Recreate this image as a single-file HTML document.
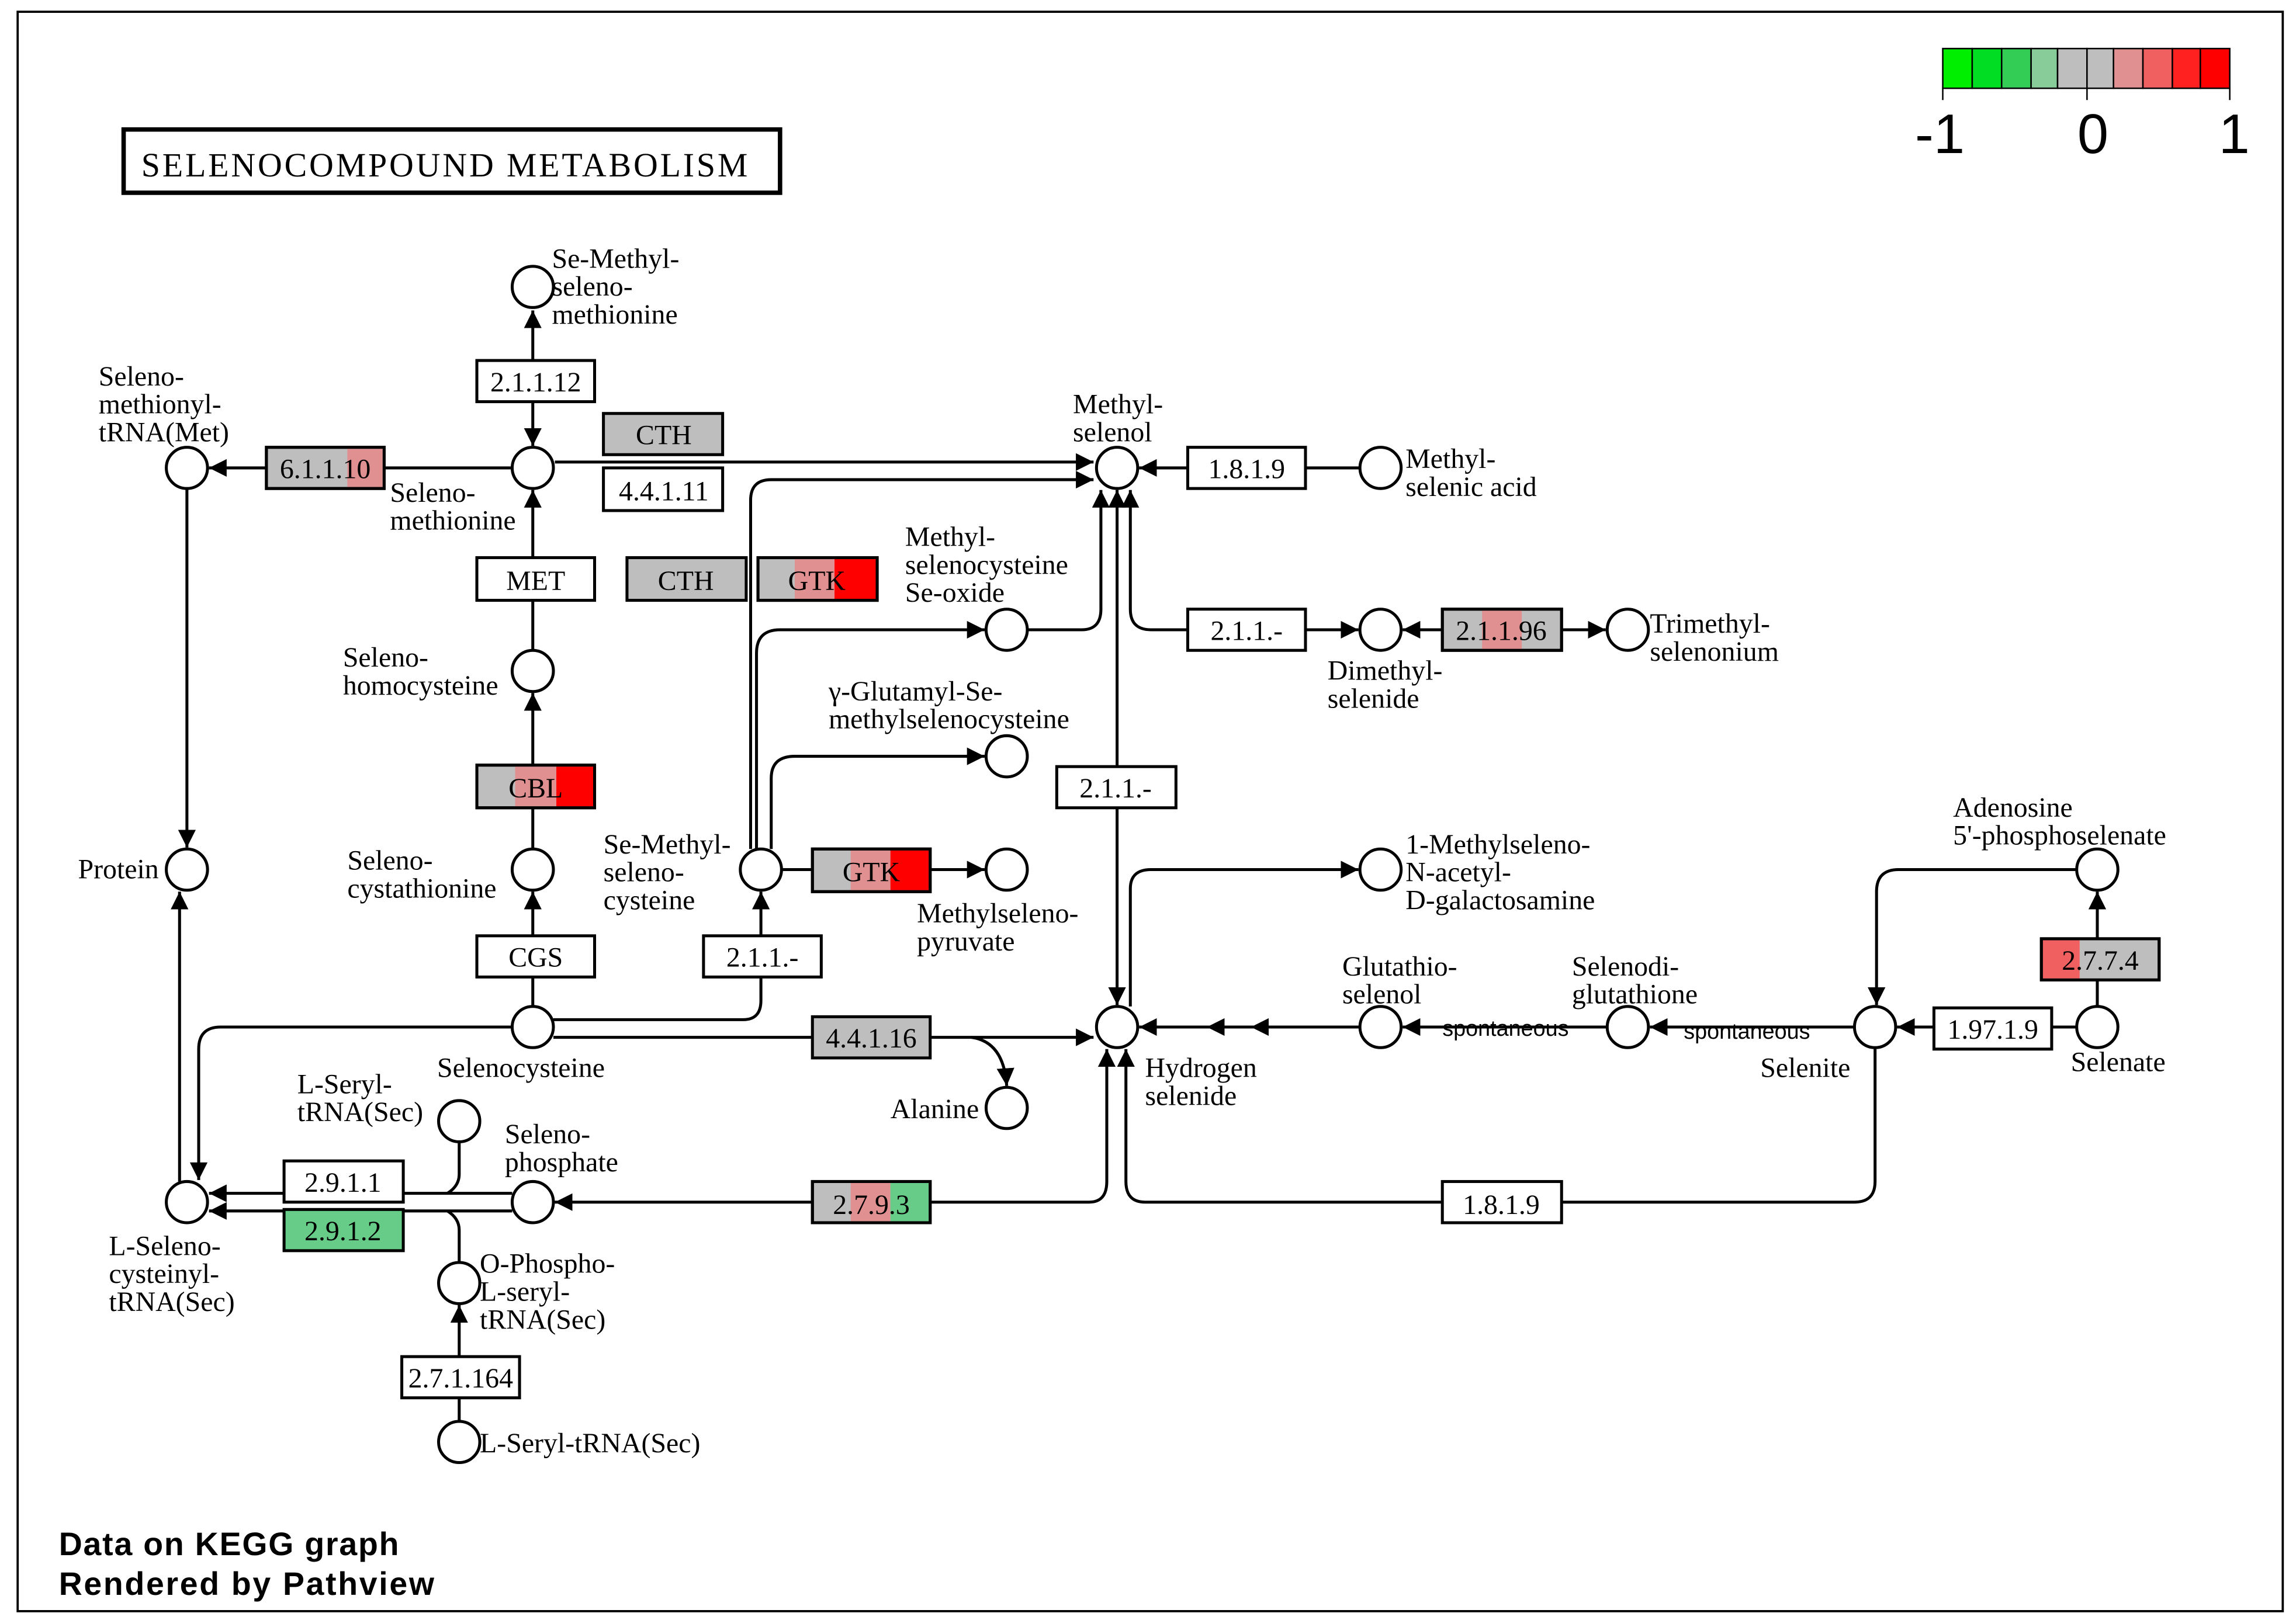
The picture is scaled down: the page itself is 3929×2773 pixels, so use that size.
<!DOCTYPE html>
<html><head><meta charset="utf-8"><style>
html,body{margin:0;padding:0;background:#fff}
svg{display:block}
text{font-family:"Liberation Serif",serif;font-size:19px;fill:#000}
.e{font-size:19px;text-anchor:middle}
.s{font-family:"Liberation Sans",sans-serif;font-size:15px}
</style></head><body>
<svg width="3929" height="2773" viewBox="0 0 1560 1101" preserveAspectRatio="none" xmlns="http://www.w3.org/2000/svg">
<defs><marker id="a" viewBox="0 0 10 10" refX="10" refY="5" markerWidth="12" markerHeight="12" markerUnits="userSpaceOnUse" orient="auto"><path d="M0,0L10,5L0,10z" fill="#000"/></marker></defs>
<rect x="0" y="0" width="1560" height="1101" fill="#fff"/>
<rect x="12" y="8" width="1539" height="1087" fill="none" stroke="#000" stroke-width="1.5"/>
<g stroke="#000" stroke-width="1">
<rect x="1320" y="33" width="20" height="27" fill="#00ee00"/><rect x="1340" y="33" width="20" height="27" fill="#00dd22"/><rect x="1360" y="33" width="20" height="27" fill="#33cc55"/><rect x="1380" y="33" width="18" height="27" fill="#88cc99"/><rect x="1398" y="33" width="20" height="27" fill="#bebebe"/><rect x="1418" y="33" width="18" height="27" fill="#bebebe"/><rect x="1436" y="33" width="20" height="27" fill="#e09090"/><rect x="1456" y="33" width="20" height="27" fill="#f06060"/><rect x="1476" y="33" width="19" height="27" fill="#ff2020"/><rect x="1495" y="33" width="20" height="27" fill="#ff0000"/>
<line x1="1320" y1="60" x2="1320" y2="68"/><line x1="1418" y1="60" x2="1418" y2="68"/><line x1="1515" y1="60" x2="1515" y2="68"/></g>
<text x="1318" y="104" style="font-family:'Liberation Sans',sans-serif;font-size:38px" text-anchor="middle">-1</text>
<text x="1422" y="104" style="font-family:'Liberation Sans',sans-serif;font-size:38px" text-anchor="middle">0</text>
<text x="1518" y="104" style="font-family:'Liberation Sans',sans-serif;font-size:38px" text-anchor="middle">1</text>
<rect x="84" y="88" width="446" height="43" fill="#fff" stroke="#000" stroke-width="3"/>
<text x="96" y="120" style="font-size:23px" textLength="412">SELENOCOMPOUND  METABOLISM</text>
<text x="40" y="1057" style="font-family:'Liberation Sans',sans-serif;font-size:22px;font-weight:bold" textLength="231">Data on KEGG graph</text>
<text x="40" y="1084" style="font-family:'Liberation Sans',sans-serif;font-size:22px;font-weight:bold" textLength="255">Rendered by Pathview</text>

<g fill="none" stroke="#000" stroke-width="2">
<path d="M362,245V211" marker-end="url(#a)"/>
<path d="M362,273V303" marker-end="url(#a)"/>
<path d="M347,318H261"/><path d="M181,318H142" marker-end="url(#a)"/>
<path d="M377,314H743" marker-end="url(#a)"/>
<path d="M362,379V333" marker-end="url(#a)"/><path d="M362,408V442"/>
<path d="M362,520V471" marker-end="url(#a)"/><path d="M362,549V577"/>
<path d="M362,636V606" marker-end="url(#a)"/><path d="M362,664V684"/>
<path d="M127,332V576" marker-end="url(#a)"/>
<path d="M122,803V606" marker-end="url(#a)"/>
<path d="M348,698H150Q135,698 135,713V802" marker-end="url(#a)"/>
<path d="M376,693H505Q517,693 517,680V664"/><path d="M517,636V606" marker-end="url(#a)"/>
<path d="M376,705H552"/><path d="M632,705H743" marker-end="url(#a)"/>
<path d="M660,705Q682,708 684,738" marker-end="url(#a)"/>
<path d="M510,577V340Q510,326 524,326H743" marker-end="url(#a)"/>
<path d="M514,577V444Q514,428 530,428H669" marker-end="url(#a)"/>
<path d="M524,577V529Q524,514 540,514H669" marker-end="url(#a)"/>
<path d="M531,591H552"/><path d="M632,591H669" marker-end="url(#a)"/>
<path d="M698,428H735Q748,428 748,414V333" marker-end="url(#a)"/>
<path d="M759,521V333" marker-end="url(#a)"/><path d="M759,549V683" marker-end="url(#a)"/>
<path d="M807,428H782Q768,428 768,414V333" marker-end="url(#a)"/>
<path d="M887,428H923" marker-end="url(#a)"/>
<path d="M980,428H953" marker-end="url(#a)"/><path d="M1061,428H1091" marker-end="url(#a)"/>
<path d="M924,318H887"/><path d="M807,318H774" marker-end="url(#a)"/>
<path d="M768,684V604Q768,591 782,591H923" marker-end="url(#a)"/>
<path d="M924,698H774" marker-end="url(#a)"/>
<path d="M900,698H820" marker-end="url(#a)"/><path d="M870,698H850" marker-end="url(#a)"/>
<path d="M1092,698H953" marker-end="url(#a)"/>
<path d="M1260,698H1121" marker-end="url(#a)"/>
<path d="M1314,698H1289" marker-end="url(#a)"/><path d="M1394,698H1411"/>
<path d="M1425,684V666"/><path d="M1425,638V606" marker-end="url(#a)"/>
<path d="M1411,591H1290Q1275,591 1275,606V683" marker-end="url(#a)"/>
<path d="M1274,712V803Q1274,817 1260,817H1061"/>
<path d="M980,817H778Q765,817 765,803V713" marker-end="url(#a)"/>
<path d="M552,817H377" marker-end="url(#a)"/>
<path d="M632,817H740Q752,817 752,803V713" marker-end="url(#a)"/>
<path d="M348,811H274"/><path d="M193,811H142" marker-end="url(#a)"/>
<path d="M348,823H274"/><path d="M193,823H142" marker-end="url(#a)"/>
<path d="M312,776V798Q312,806 304,811"/>
<path d="M312,858V836Q312,828 304,823"/>
<path d="M312,922V887" marker-end="url(#a)"/><path d="M312,950V966"/>
</g>
<g stroke="#000" stroke-width="2">
<rect x="324" y="245" width="80" height="28" fill="#fff"/>
<rect x="181" y="304" width="80" height="28" fill="#bebebe"/><rect x="236" y="305" width="24" height="26" fill="#e09090" stroke="none"/><rect x="181" y="304" width="80" height="28" fill="none"/>
<rect x="410" y="281" width="81" height="28" fill="#bebebe"/>
<rect x="410" y="318" width="81" height="29" fill="#fff"/>
<rect x="324" y="379" width="80" height="29" fill="#fff"/>
<rect x="426" y="379" width="81" height="29" fill="#bebebe"/>
<rect x="515" y="379" width="81" height="29" fill="#bebebe"/><rect x="540" y="380" width="27" height="27" fill="#e09090" stroke="none"/><rect x="567" y="380" width="28" height="27" fill="#ff0000" stroke="none"/><rect x="515" y="379" width="81" height="29" fill="none"/>
<rect x="324" y="520" width="80" height="29" fill="#bebebe"/><rect x="350" y="521" width="28" height="27" fill="#e09090" stroke="none"/><rect x="378" y="521" width="25" height="27" fill="#ff0000" stroke="none"/><rect x="324" y="520" width="80" height="29" fill="none"/>
<rect x="324" y="636" width="80" height="28" fill="#fff"/>
<rect x="478" y="636" width="80" height="28" fill="#fff"/>
<rect x="552" y="577" width="80" height="29" fill="#bebebe"/><rect x="578" y="578" width="27" height="27" fill="#e09090" stroke="none"/><rect x="605" y="578" width="26" height="27" fill="#ff0000" stroke="none"/><rect x="552" y="577" width="80" height="29" fill="none"/>
<rect x="552" y="691" width="80" height="28" fill="#bebebe"/>
<rect x="552" y="803" width="80" height="28" fill="#bebebe"/><rect x="578" y="804" width="27" height="26" fill="#e09090" stroke="none"/><rect x="605" y="804" width="26" height="26" fill="#66cc88" stroke="none"/><rect x="552" y="803" width="80" height="28" fill="none"/>
<rect x="193" y="789" width="81" height="28" fill="#fff"/>
<rect x="193" y="822" width="81" height="28" fill="#66cc88"/>
<rect x="273" y="922" width="80" height="28" fill="#fff"/>
<rect x="807" y="304" width="80" height="28" fill="#fff"/>
<rect x="807" y="414" width="80" height="28" fill="#fff"/>
<rect x="980" y="414" width="81" height="28" fill="#bebebe"/><rect x="1007" y="415" width="27" height="26" fill="#e09090" stroke="none"/><rect x="980" y="414" width="81" height="28" fill="none"/>
<rect x="718" y="521" width="81" height="28" fill="#fff"/>
<rect x="1387" y="638" width="80" height="28" fill="#bebebe"/><rect x="1388" y="639" width="25" height="26" fill="#f06060" stroke="none"/><rect x="1387" y="638" width="80" height="28" fill="none"/>
<rect x="1314" y="685" width="80" height="28" fill="#fff"/>
<rect x="980" y="803" width="81" height="28" fill="#fff"/>
</g>
<g class="e">
<text x="364" y="266">2.1.1.12</text><text x="221" y="325">6.1.1.10</text><text x="451" y="302">CTH</text><text x="451" y="340">4.4.1.11</text>
<text x="364" y="401">MET</text><text x="466" y="401">CTH</text><text x="555" y="401">GTK</text><text x="364" y="542">CBL</text>
<text x="364" y="657">CGS</text><text x="518" y="657">2.1.1.-</text><text x="592" y="599">GTK</text><text x="592" y="712">4.4.1.16</text>
<text x="592" y="825">2.7.9.3</text><text x="233" y="810">2.9.1.1</text><text x="233" y="843">2.9.1.2</text><text x="313" y="943">2.7.1.164</text>
<text x="847" y="325">1.8.1.9</text><text x="847" y="435">2.1.1.-</text><text x="1020" y="435">2.1.1.96</text><text x="758" y="542">2.1.1.-</text>
<text x="1427" y="659">2.7.7.4</text><text x="1354" y="706">1.97.1.9</text><text x="1020" y="825">1.8.1.9</text>
</g>
<g fill="#fff" stroke="#000" stroke-width="2">
<ellipse cx="362" cy="195" rx="14" ry="14"/><ellipse cx="127" cy="318" rx="14" ry="14"/><ellipse cx="362" cy="318" rx="14" ry="14"/>
<ellipse cx="362" cy="456" rx="14" ry="14"/><ellipse cx="362" cy="591" rx="14" ry="14"/><ellipse cx="362" cy="698" rx="14" ry="14"/>
<ellipse cx="127" cy="591" rx="14" ry="14"/><ellipse cx="127" cy="817" rx="14" ry="14"/><ellipse cx="312" cy="762" rx="14" ry="14"/>
<ellipse cx="362" cy="817" rx="14" ry="14"/><ellipse cx="312" cy="872" rx="14" ry="14"/><ellipse cx="312" cy="980" rx="14" ry="14"/>
<ellipse cx="517" cy="591" rx="14" ry="14"/><ellipse cx="684" cy="428" rx="14" ry="14"/><ellipse cx="684" cy="514" rx="14" ry="14"/>
<ellipse cx="684" cy="591" rx="14" ry="14"/><ellipse cx="684" cy="753" rx="14" ry="14"/><ellipse cx="759" cy="318" rx="14" ry="14"/>
<ellipse cx="938" cy="318" rx="14" ry="14"/><ellipse cx="938" cy="428" rx="14" ry="14"/><ellipse cx="1106" cy="428" rx="14" ry="14"/>
<ellipse cx="759" cy="698" rx="14" ry="14"/><ellipse cx="938" cy="591" rx="14" ry="14"/><ellipse cx="938" cy="698" rx="14" ry="14"/>
<ellipse cx="1106" cy="698" rx="14" ry="14"/><ellipse cx="1274" cy="698" rx="14" ry="14"/><ellipse cx="1425" cy="698" rx="14" ry="14"/>
<ellipse cx="1425" cy="591" rx="14" ry="14"/>
</g>
<g>
<text x="375" y="182">Se-Methyl-</text><text x="375" y="201">seleno-</text><text x="375" y="220">methionine</text>
<text x="67" y="262">Seleno-</text><text x="67" y="281">methionyl-</text><text x="67" y="300">tRNA(Met)</text>
<text x="265" y="341">Seleno-</text><text x="265" y="360">methionine</text>
<text x="233" y="453">Seleno-</text><text x="233" y="472">homocysteine</text>
<text x="236" y="591">Seleno-</text><text x="236" y="610">cystathionine</text>
<text x="297" y="732">Selenocysteine</text>
<text x="53" y="597">Protein</text>
<text x="202" y="743">L-Seryl-</text><text x="202" y="762">tRNA(Sec)</text>
<text x="343" y="777">Seleno-</text><text x="343" y="796">phosphate</text>
<text x="74" y="853">L-Seleno-</text><text x="74" y="872">cysteinyl-</text><text x="74" y="891">tRNA(Sec)</text>
<text x="326" y="865">O-Phospho-</text><text x="326" y="884">L-seryl-</text><text x="326" y="903">tRNA(Sec)</text>
<text x="326" y="987">L-Seryl-tRNA(Sec)</text>
<text x="410" y="580">Se-Methyl-</text><text x="410" y="599">seleno-</text><text x="410" y="618">cysteine</text>
<text x="615" y="371">Methyl-</text><text x="615" y="390">selenocysteine</text><text x="615" y="409">Se-oxide</text>
<text x="563" y="476">γ-Glutamyl-Se-</text><text x="563" y="495">methylselenocysteine</text>
<text x="623" y="627">Methylseleno-</text><text x="623" y="646">pyruvate</text>
<text x="605" y="760">Alanine</text>
<text x="729" y="281">Methyl-</text><text x="729" y="300">selenol</text>
<text x="955" y="318">Methyl-</text><text x="955" y="337">selenic acid</text>
<text x="902" y="462">Dimethyl-</text><text x="902" y="481">selenide</text>
<text x="1121" y="430">Trimethyl-</text><text x="1121" y="449">selenonium</text>
<text x="778" y="732">Hydrogen</text><text x="778" y="751">selenide</text>
<text x="955" y="580">1-Methylseleno-</text><text x="955" y="599">N-acetyl-</text><text x="955" y="618">D-galactosamine</text>
<text x="912" y="663">Glutathio-</text><text x="912" y="682">selenol</text>
<text x="1068" y="663">Selenodi-</text><text x="1068" y="682">glutathione</text>
<text x="1196" y="732">Selenite</text><text x="1407" y="728">Selenate</text>
<text x="1327" y="555">Adenosine</text><text x="1327" y="574">5'-phosphoselenate</text>
<text class="s" x="980" y="704">spontaneous</text><text class="s" x="1144" y="706">spontaneous</text>
</g>
</svg>
</body></html>
